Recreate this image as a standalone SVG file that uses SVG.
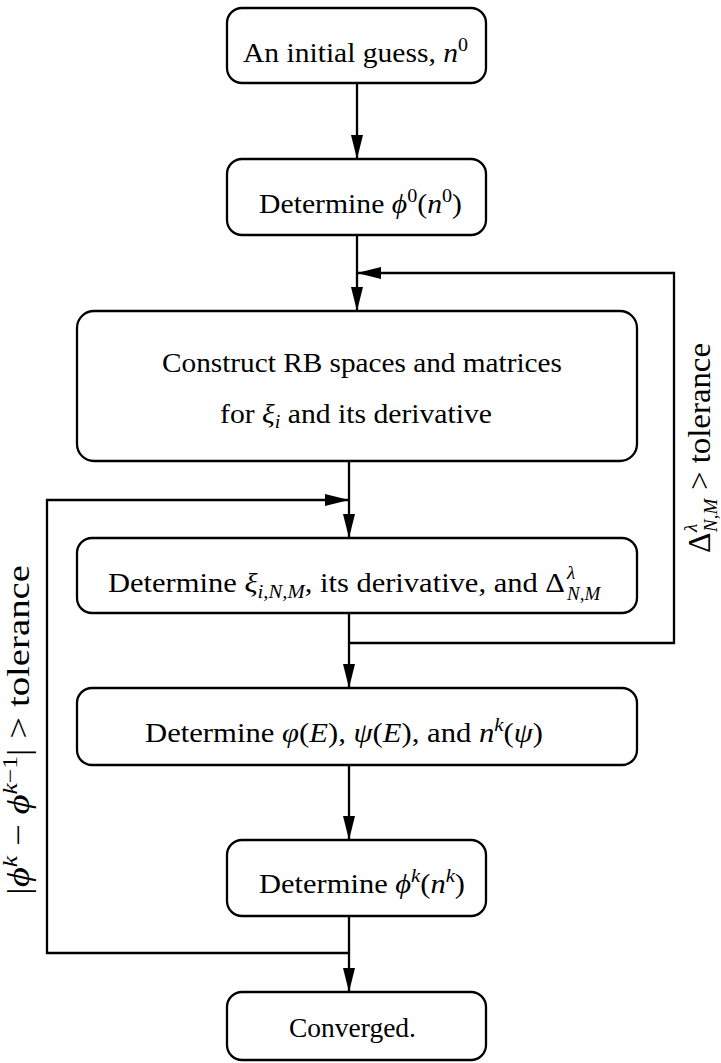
<svg xmlns="http://www.w3.org/2000/svg" width="721" height="1063" viewBox="0 0 721 1063">
<style>
.box{fill:#fff;stroke:#000;stroke-width:2.3}
.con{fill:none;stroke:#000;stroke-width:2.3}
.t{font-family:'Liberation Serif','Times New Roman','DejaVu Serif',serif;font-size:28px;fill:#000}
.it{font-style:italic}
.s{font-size:19px}
.lab{font-size:32px}
.ls{font-size:21px}
</style>
<defs>
<marker id="ah" markerUnits="userSpaceOnUse" markerWidth="24" markerHeight="12" refX="24" refY="6" orient="auto">
<path d="M0,0 L24,6 L0,12 Z" fill="#000"/>
</marker>
</defs>
<rect width="721" height="1063" fill="#fff"/>
<g id="connectors">
<line class="con" x1="357" y1="83" x2="357" y2="159" marker-end="url(#ah)"/>
<line class="con" x1="357" y1="235" x2="357" y2="311" marker-end="url(#ah)"/>
<polyline class="con" points="349,643 674,643 674,273 357,273" marker-end="url(#ah)"/>
<line class="con" x1="349" y1="461" x2="349" y2="538" marker-end="url(#ah)"/>
<polyline class="con" points="349,953 47,953 47,500 349,500" marker-end="url(#ah)"/>
<line class="con" x1="349" y1="613" x2="349" y2="688" marker-end="url(#ah)"/>
<line class="con" x1="349" y1="765" x2="349" y2="840" marker-end="url(#ah)"/>
<line class="con" x1="349" y1="916" x2="349" y2="992" marker-end="url(#ah)"/>
</g>
<g id="n1">
<rect class="box" x="227" y="8" width="259" height="75" rx="15"/>
<text class="t" x="243" y="62" textLength="225" lengthAdjust="spacingAndGlyphs">An initial guess, <tspan class="it">n</tspan><tspan class="s" dy="-11">0</tspan></text>
</g>
<g id="n2">
<rect class="box" x="227" y="159" width="259" height="76" rx="15"/>
<text class="t" x="259" y="213" textLength="203" lengthAdjust="spacingAndGlyphs">Determine <tspan class="it">ϕ</tspan><tspan class="s" dy="-11">0</tspan><tspan dy="11">(</tspan><tspan class="it">n</tspan><tspan class="s" dy="-11">0</tspan><tspan dy="11">)</tspan></text>
</g>
<g id="n3">
<rect class="box" x="77" y="311" width="560" height="150" rx="17"/>
<text class="t" x="162" y="372" textLength="400" lengthAdjust="spacingAndGlyphs">Construct RB spaces and matrices</text>
<text class="t" x="220" y="423" textLength="272" lengthAdjust="spacingAndGlyphs">for <tspan class="it">ξ</tspan><tspan class="s it" dy="5">i</tspan><tspan dy="-5"> and its derivative</tspan></text>
</g>
<g id="n4">
<rect class="box" x="77" y="538" width="560" height="75" rx="15"/>
<text class="t" x="108" y="592" textLength="457" lengthAdjust="spacingAndGlyphs">Determine <tspan class="it">ξ</tspan><tspan class="s" dy="6"><tspan class="it">i</tspan>,<tspan class="it">N</tspan>,<tspan class="it">M</tspan></tspan><tspan dy="-6">, its derivative, and Δ</tspan></text>
<text class="t s it" x="567" y="579">λ</text>
<text class="t s" x="567" y="600"><tspan class="it">N</tspan>,<tspan class="it">M</tspan></text>
</g>
<g id="n5">
<rect class="box" x="77" y="688" width="560" height="77" rx="15"/>
<text class="t" x="145" y="742" textLength="398" lengthAdjust="spacingAndGlyphs">Determine <tspan class="it">φ</tspan>(<tspan class="it">E</tspan>), <tspan class="it">ψ</tspan>(<tspan class="it">E</tspan>), and <tspan class="it">n</tspan><tspan class="s it" dy="-11">k</tspan><tspan dy="11">(</tspan><tspan class="it">ψ</tspan>)</text>
</g>
<g id="n6">
<rect class="box" x="227" y="840" width="259" height="76" rx="15"/>
<text class="t" x="259" y="893" textLength="206" lengthAdjust="spacingAndGlyphs">Determine <tspan class="it">ϕ</tspan><tspan class="s it" dy="-11">k</tspan><tspan dy="11">(</tspan><tspan class="it">n</tspan><tspan class="s it" dy="-11">k</tspan><tspan dy="11">)</tspan></text>
</g>
<g id="n7">
<rect class="box" x="227" y="992" width="259" height="68" rx="15"/>
<text class="t" x="289" y="1037" textLength="127" lengthAdjust="spacingAndGlyphs">Converged.</text>
</g>
<g id="labels">
<g transform="translate(710,553) rotate(-90)">
<text class="t lab" x="0" y="0">Δ</text>
<text class="t s it" x="21" y="-13">λ</text>
<text class="t s" x="21" y="7"><tspan class="it">N</tspan>,<tspan class="it">M</tspan></text>
<text class="t lab" x="63" y="0" textLength="147" lengthAdjust="spacingAndGlyphs">&gt; tolerance</text>
</g>
<g transform="translate(29,895) rotate(-90)">
<text class="t lab" x="0" y="0" textLength="330" lengthAdjust="spacingAndGlyphs">|<tspan class="it">ϕ</tspan><tspan class="ls it" dy="-12">k</tspan><tspan dy="12"> − </tspan><tspan class="it">ϕ</tspan><tspan class="ls" dy="-12"><tspan class="it">k</tspan>−1</tspan><tspan dy="12">| &gt; tolerance</tspan></text>
</g>
</g>
</svg>
